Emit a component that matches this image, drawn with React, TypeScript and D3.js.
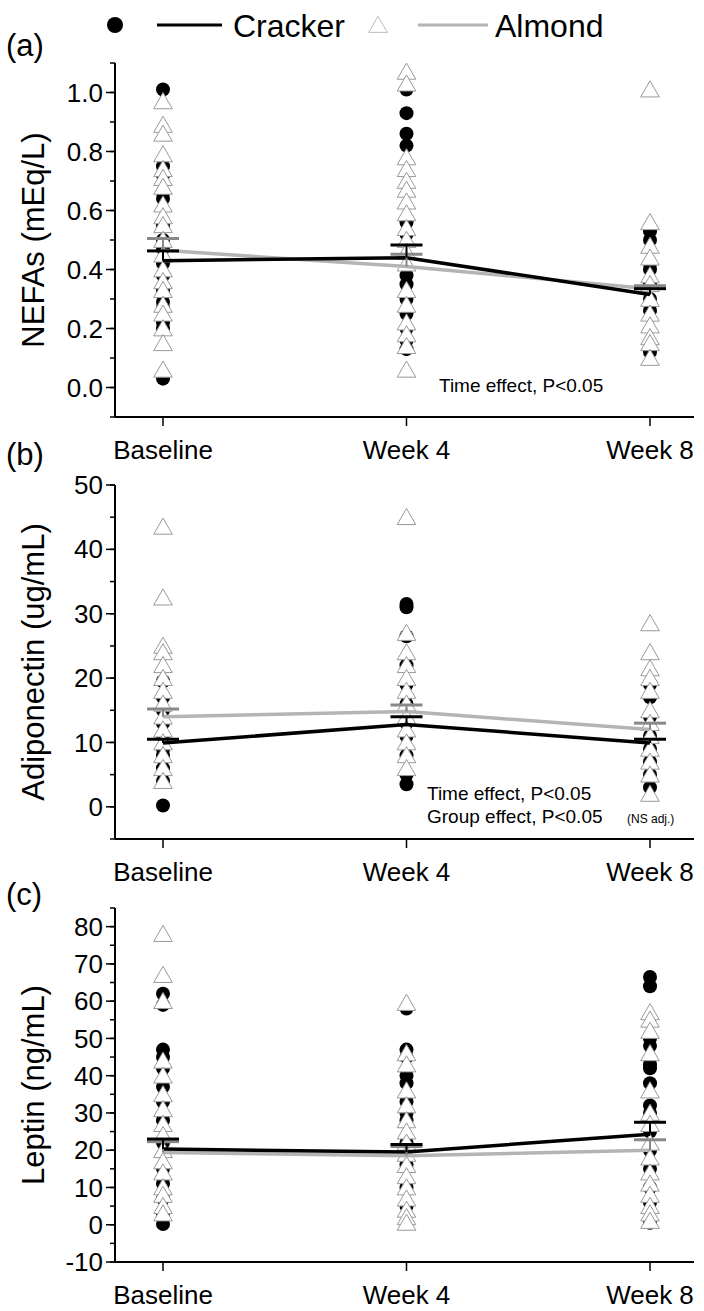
import React from "react";
import * as d3 from "d3";

const categories = ["Baseline", "Week 4", "Week 8"];

// NEFAs (mEq/L)
const nefaCracker = [
  [1.01, 0.75, 0.72, 0.66, 0.64, 0.55, 0.5, 0.47, 0.42, 0.38, 0.33, 0.29, 0.27, 0.22, 0.2, 0.03],
  [1.01, 0.93, 0.86, 0.82, 0.56, 0.52, 0.38, 0.35, 0.3, 0.25, 0.2, 0.16, 0.13],
  [0.53, 0.5, 0.42, 0.4, 0.35, 0.3, 0.26, 0.12],
];
const nefaAlmond = [
  [0.97, 0.89, 0.86, 0.79, 0.74, 0.71, 0.68, 0.62, 0.58, 0.55, 0.5, 0.45, 0.4, 0.36, 0.33, 0.28, 0.25, 0.2, 0.15, 0.06],
  [1.07, 1.03, 0.78, 0.74, 0.7, 0.67, 0.63, 0.59, 0.54, 0.5, 0.46, 0.42, 0.33, 0.28, 0.22, 0.18, 0.14, 0.06],
  [1.01, 0.56, 0.48, 0.44, 0.38, 0.35, 0.3, 0.25, 0.21, 0.17, 0.15, 0.1],
];
const nefaCrackerMean = [0.43, 0.44, 0.315];
const nefaCrackerErr = [0.463, 0.483, 0.335];
const nefaAlmondMean = [0.465, 0.41, 0.335];
const nefaAlmondErr = [0.505, 0.452, 0.345];

// Adiponectin (ug/mL)
const adipoCracker = [
  [19.5, 17, 15, 13, 11, 9, 8, 6, 4, 0.2],
  [31.5, 31, 26.5, 22, 19, 16, 13, 11, 8, 5, 3.5],
  [19, 17, 14, 11, 9, 7, 5, 3],
];
const adipoAlmond = [
  [43.5, 32.5, 25, 24, 22, 20, 18, 16, 14, 12, 10, 8, 6, 4],
  [45, 27, 24, 22, 20, 18, 16, 14, 12, 10, 8, 6],
  [28.5, 24, 21.5, 20, 18, 15, 13, 11, 9, 7, 5, 2],
];
const adipoCrackerMean = [9.9, 12.8, 9.9];
const adipoCrackerErr = [10.5, 14, 10.5];
const adipoAlmondMean = [14, 14.8, 12];
const adipoAlmondErr = [15.2, 15.8, 13];

// Leptin (ng/mL)
const leptinCracker = [
  [62, 59, 47, 45, 42, 37, 33, 28, 22, 15, 11, 7, 3, 0.2],
  [58, 47, 45, 40, 38, 33, 30, 28, 22, 16, 10, 5],
  [66.5, 64, 50, 48, 43, 42, 38, 32, 30, 25, 20, 15, 10, 6, 0.5],
];
const leptinAlmond = [
  [78, 67, 60, 44, 40, 35, 31, 27, 24, 20, 17, 14, 10, 8, 5, 3],
  [59.5, 46, 43, 36, 32, 28, 25, 22, 19, 16, 13, 10, 7, 4, 2, 0.5],
  [57, 55, 52, 46, 36, 30, 27, 22, 18, 14, 11, 8, 5, 3, 1],
];
const leptinCrackerMean = [20.3, 19.5, 24.3];
const leptinCrackerErr = [23, 21.5, 27.5];
const leptinAlmondMean = [19.4, 18.5, 20];
const leptinAlmondErr = [22.3, 21, 22.8];

const FONT = "'Liberation Sans', Arial, sans-serif";

const panels = [
  {
    label: "(a)", title: "NEFAs (mEq/L)", top: 63, bottom: 417, domain: [-0.1, 1.1],
    ticks: d3.range(0, 1.01, 0.2), minor: d3.range(-0.1, 1.11, 0.1), fmt: (v: number) => v.toFixed(1),
    cracker: nefaCracker, almond: nefaAlmond,
    cm: nefaCrackerMean, ce: nefaCrackerErr, am: nefaAlmondMean, ae: nefaAlmondErr,
    notes: [{ t: "Time effect, P<0.05", x: 439, y: 392 }], labelY: 56,
  },
  {
    label: "(b)", title: "Adiponectin (ug/mL)", top: 485, bottom: 839, domain: [-5, 50],
    ticks: d3.range(0, 51, 10), minor: d3.range(-5, 51, 5), fmt: (v: number) => String(v),
    cracker: adipoCracker, almond: adipoAlmond,
    cm: adipoCrackerMean, ce: adipoCrackerErr, am: adipoAlmondMean, ae: adipoAlmondErr,
    notes: [{ t: "Time effect, P<0.05", x: 427, y: 800 }, { t: "Group effect, P<0.05", x: 427, y: 823 }], labelY: 465,
  },
  {
    label: "(c)", title: "Leptin (ng/mL)", top: 908, bottom: 1262, domain: [-10, 85],
    ticks: d3.range(-10, 81, 10), minor: d3.range(-10, 86, 5), fmt: (v: number) => String(v),
    cracker: leptinCracker, almond: leptinAlmond,
    cm: leptinCrackerMean, ce: leptinCrackerErr, am: leptinAlmondMean, ae: leptinAlmondErr,
    notes: [], labelY: 905,
  },
];

const x = d3.scalePoint<string>().domain(categories).range([163, 650]);
const axisLeft = 115;
const axisRight = 694;
const tri = d3.symbol().type(d3.symbolTriangle).size(150);

const Panel = ({ p }: { p: (typeof panels)[number] }) => {
  const y = d3.scaleLinear().domain(p.domain).range([p.bottom, p.top]);
  const line = d3.line<number>().x((_, i) => x(categories[i])!).y((d) => y(d));
  return (
    <g fontFamily={FONT}>
      <text x={6} y={p.labelY} fontSize={31}>{p.label}</text>
      <text transform={`translate(44,${(p.top + p.bottom) / 2}) rotate(-90)`} textAnchor="middle" fontSize={31}>
        {p.title}
      </text>
      {/* scatter */}
      {categories.map((c, i) => (
        <g key={c}>
          {p.cracker[i].map((v, j) => (
            <circle key={"c" + j} cx={x(c)} cy={y(v)} r={7} fill="#000" />
          ))}
          {p.almond[i].map((v, j) => (
            <path key={"a" + j} d={tri()!} transform={`translate(${x(c)},${y(v) + 2})`} fill="#fff" stroke="#999" strokeWidth={1} />
          ))}
        </g>
      ))}
      {/* means */}
      <path d={line(p.am)!} fill="none" stroke="#b4b4b4" strokeWidth={3.5} />
      <path d={line(p.cm)!} fill="none" stroke="#000" strokeWidth={3.5} />
      {categories.map((c, i) => (
        <g key={"e" + c}>
          <line x1={x(c)} x2={x(c)} y1={y(p.am[i])} y2={y(p.ae[i])} stroke="#888" strokeWidth={2} />
          <line x1={x(c)! - 16} x2={x(c)! + 16} y1={y(p.ae[i])} y2={y(p.ae[i])} stroke="#888" strokeWidth={3} />
          <line x1={x(c)} x2={x(c)} y1={y(p.cm[i])} y2={y(p.ce[i])} stroke="#000" strokeWidth={2} />
          <line x1={x(c)! - 16} x2={x(c)! + 16} y1={y(p.ce[i])} y2={y(p.ce[i])} stroke="#000" strokeWidth={3} />
        </g>
      ))}
      {/* axes */}
      <line x1={axisLeft} x2={axisLeft} y1={p.top} y2={p.bottom} stroke="#000" strokeWidth={2} />
      <line x1={axisLeft} x2={axisRight} y1={p.bottom} y2={p.bottom} stroke="#000" strokeWidth={2} />
      {p.minor.map((v) => (
        <line key={"m" + v} x1={axisLeft - 5} x2={axisLeft} y1={y(v)} y2={y(v)} stroke="#000" strokeWidth={1.5} />
      ))}
      {p.ticks.map((v) => (
        <g key={"t" + v}>
          <line x1={axisLeft - 9} x2={axisLeft} y1={y(v)} y2={y(v)} stroke="#000" strokeWidth={1.5} />
          <text x={axisLeft - 12} y={y(v)} dy="0.35em" textAnchor="end" fontSize={26}>{p.fmt(v)}</text>
        </g>
      ))}
      {categories.map((c) => (
        <g key={"x" + c}>
          <line x1={x(c)} x2={x(c)} y1={p.bottom} y2={p.bottom + 9} stroke="#000" strokeWidth={1.5} />
          <text x={x(c)} y={p.bottom + 42} textAnchor="middle" fontSize={26}>{c}</text>
        </g>
      ))}
      {p.notes.map((n, i) => (
        <text key={i} x={n.x} y={n.y} fontSize={19}>{n.t}</text>
      ))}
      {p.label === "(b)" && <text x={627} y={823} fontSize={12}>(NS adj.)</text>}
    </g>
  );
};

export default function App() {
  return (
    <svg width={704} height={1311} style={{ position: "absolute", left: 0, top: 0, background: "#fff" }}>
      <g fontFamily={FONT}>
        <circle cx={115} cy={25} r={8} fill="#000" />
        <line x1={157} x2={222} y1={25} y2={25} stroke="#000" strokeWidth={3} />
        <text x={233} y={37} fontSize={32}>Cracker</text>
        <path d={tri()!} transform="translate(378,27)" fill="#fff" stroke="#bbb" />
        <line x1={418} x2={488} y1={25} y2={25} stroke="#b4b4b4" strokeWidth={3} />
        <text x={495} y={37} fontSize={32}>Almond</text>
      </g>
      {panels.map((p) => (
        <Panel key={p.label} p={p} />
      ))}
    </svg>
  );
}
